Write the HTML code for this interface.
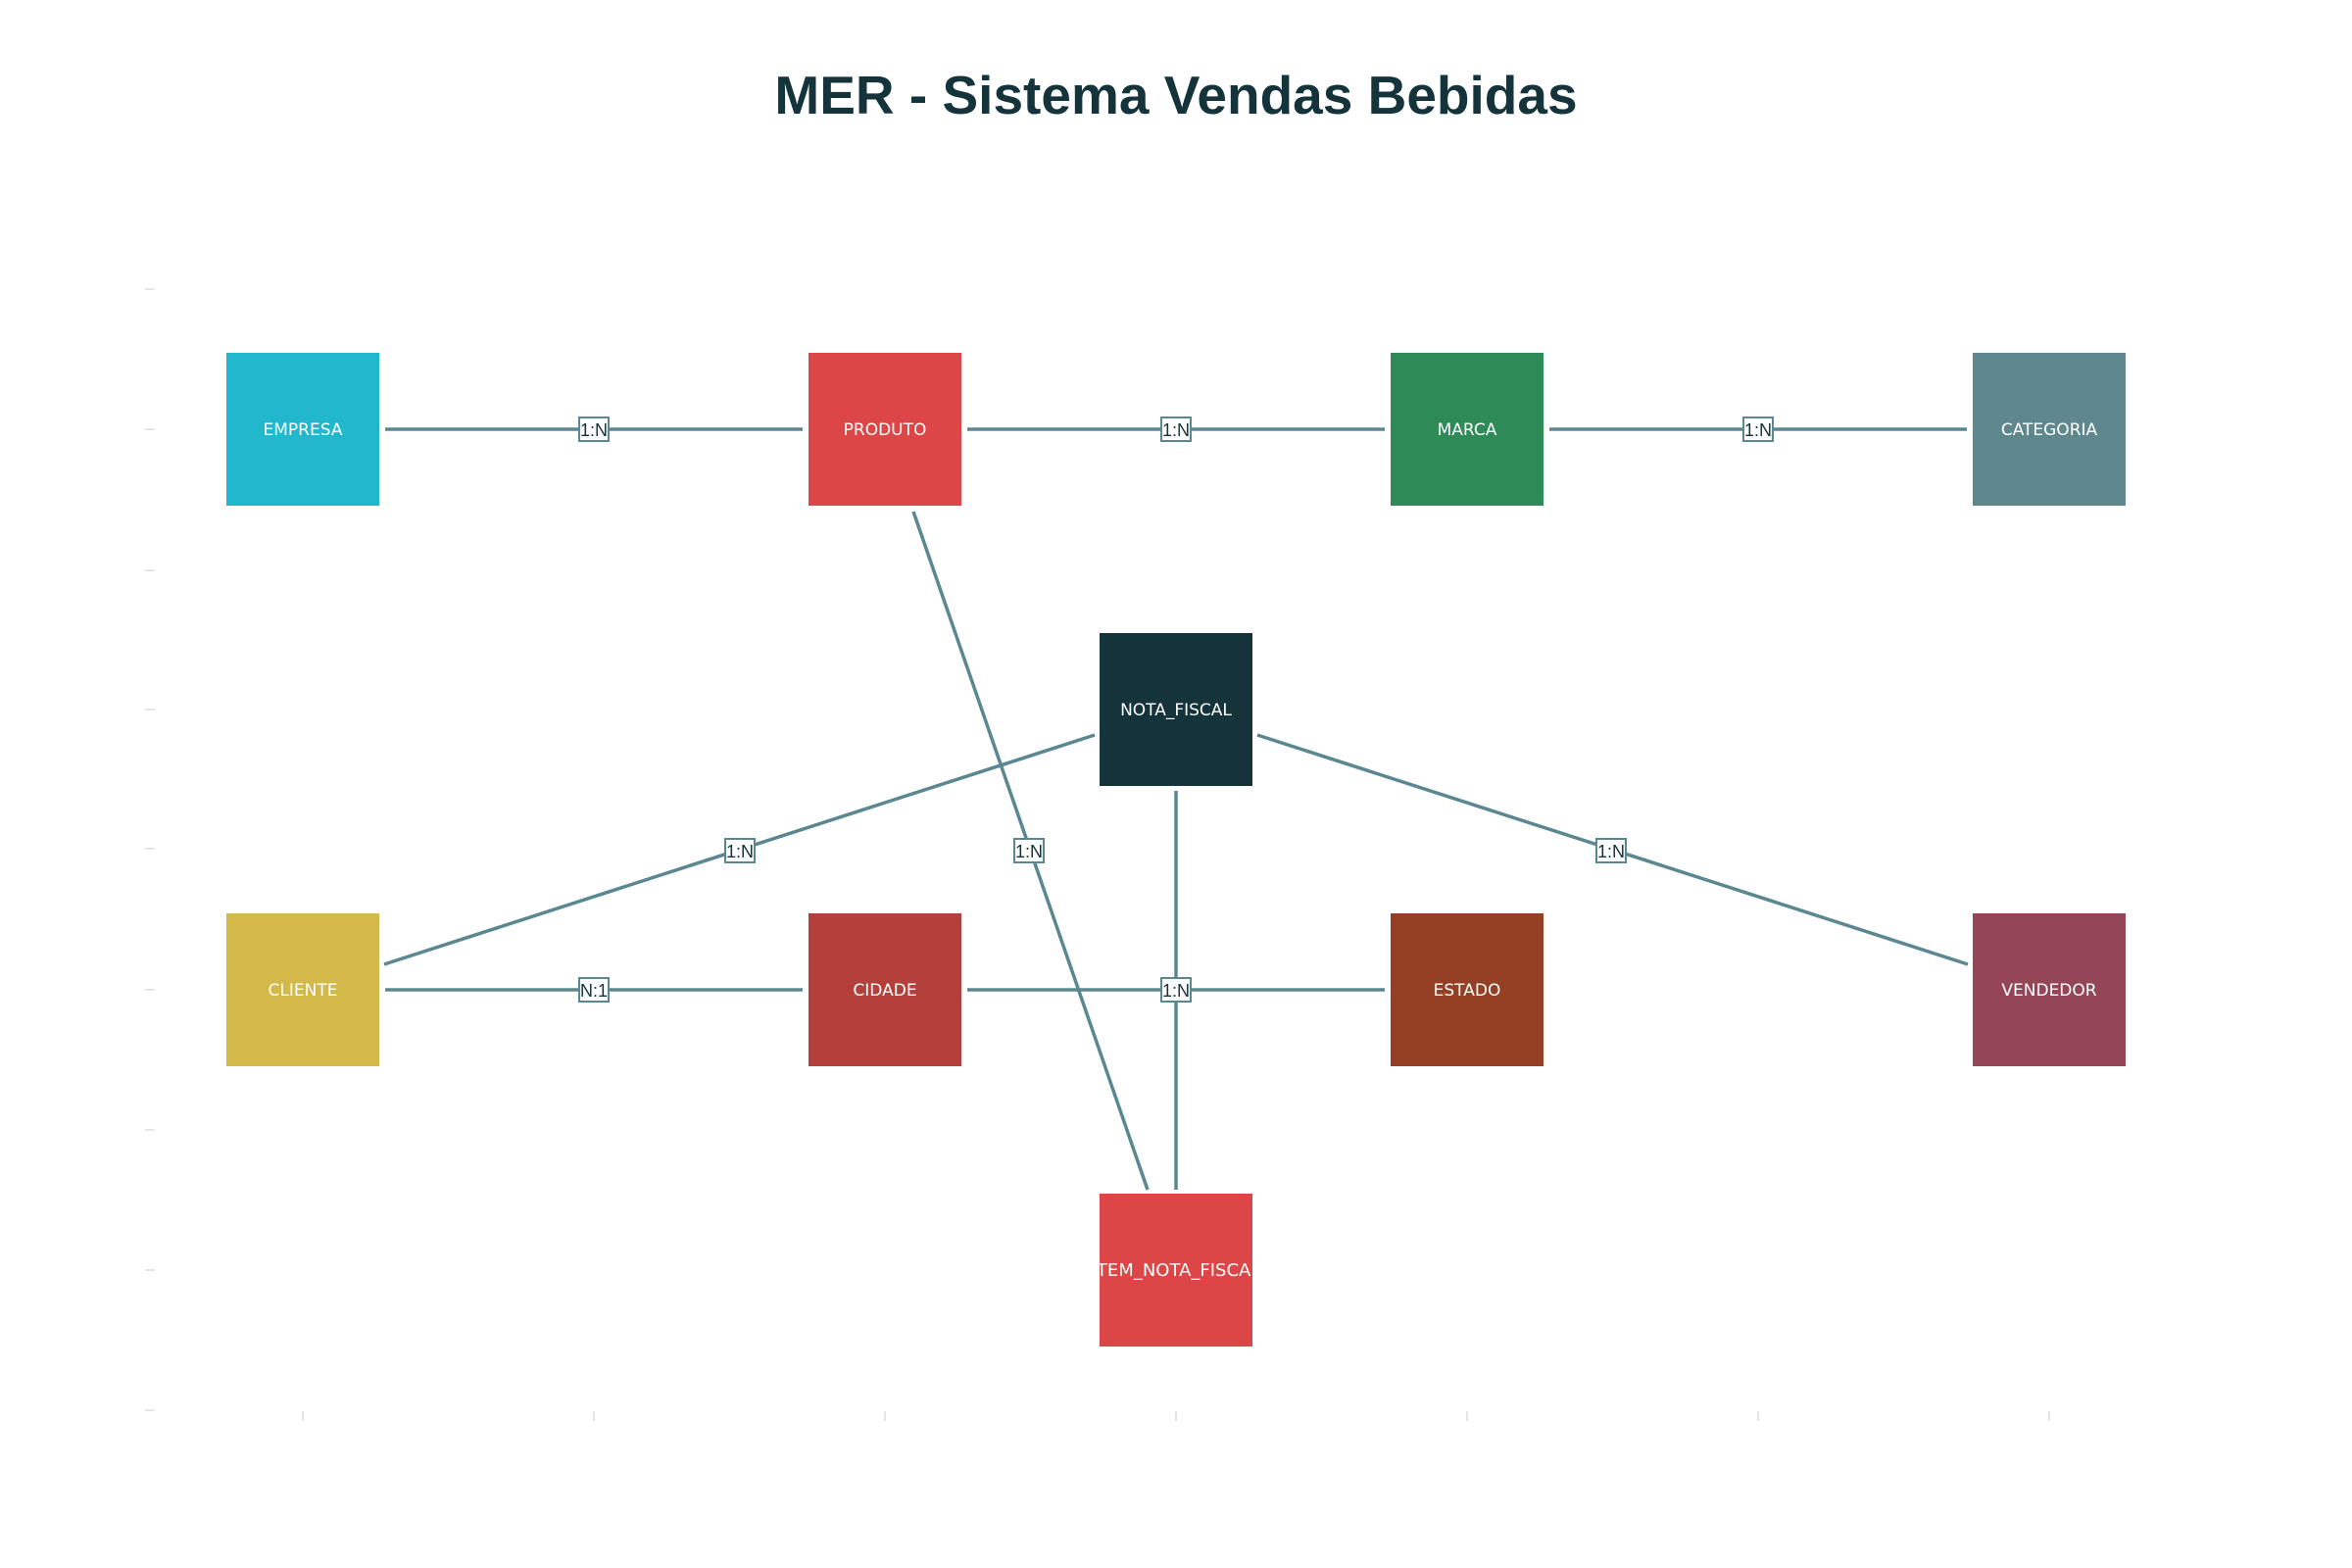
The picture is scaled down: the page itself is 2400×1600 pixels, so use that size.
<!DOCTYPE html>
<html><head><meta charset="utf-8"><style>html,body{margin:0;padding:0;background:#fff}svg{display:block}</style></head>
<body>
<svg width="2400" height="1600" viewBox="0 0 2400 1600" xmlns="http://www.w3.org/2000/svg" font-family="'DejaVu Sans','Liberation Sans',sans-serif">
<rect width="2400" height="1600" fill="#fff"/>
<text x="1200" y="116" text-anchor="middle" font-family="'Liberation Sans',sans-serif" font-weight="bold" font-size="55" fill="#14333b">MER - Sistema Vendas Bebidas</text>
<g stroke="#dcdcdc" stroke-width="1.5">
<line x1="148" x2="158" y1="295" y2="295"/><line x1="148" x2="158" y1="438" y2="438"/><line x1="148" x2="158" y1="582" y2="582"/><line x1="148" x2="158" y1="724" y2="724"/><line x1="148" x2="158" y1="866" y2="866"/><line x1="148" x2="158" y1="1010" y2="1010"/><line x1="148" x2="158" y1="1153" y2="1153"/><line x1="148" x2="158" y1="1296" y2="1296"/><line x1="148" x2="158" y1="1439" y2="1439"/>
<line x1="309" x2="309" y1="1440" y2="1450"/><line x1="606" x2="606" y1="1440" y2="1450"/><line x1="903" x2="903" y1="1440" y2="1450"/><line x1="1200" x2="1200" y1="1440" y2="1450"/><line x1="1497" x2="1497" y1="1440" y2="1450"/><line x1="1794" x2="1794" y1="1440" y2="1450"/><line x1="2091" x2="2091" y1="1440" y2="1450"/>
</g>
<g stroke="#5b8890" stroke-width="3.5">
<line x1="393" y1="438" x2="819" y2="438"/>
<line x1="987" y1="438" x2="1413" y2="438"/>
<line x1="1581" y1="438" x2="2007" y2="438"/>
<line x1="393" y1="1010" x2="819" y2="1010"/>
<line x1="987" y1="1010" x2="1413" y2="1010"/>
<line x1="932" y1="522" x2="1171" y2="1214"/>
<line x1="1117" y1="750" x2="392" y2="984"/>
<line x1="1283" y1="750" x2="2008" y2="984"/>
<line x1="1200" y1="807" x2="1200" y2="1214"/>
</g>
<g>
<rect x="231" y="360" width="156" height="156" fill="#21b8cd"/>
<rect x="825" y="360" width="156" height="156" fill="#dc4647"/>
<rect x="1419" y="360" width="156" height="156" fill="#2e8b57"/>
<rect x="2013" y="360" width="156" height="156" fill="#5e888e"/>
<rect x="1122" y="646" width="156" height="156" fill="#14333b"/>
<rect x="231" y="932" width="156" height="156" fill="#d3b84a"/>
<rect x="825" y="932" width="156" height="156" fill="#b3403b"/>
<rect x="1419" y="932" width="156" height="156" fill="#954024"/>
<rect x="2013" y="932" width="156" height="156" fill="#944556"/>
<rect x="1122" y="1218" width="156" height="156" fill="#dc4647"/>
</g>
<defs><clipPath id="c"><rect x="1122" y="1218" width="156" height="156"/></clipPath></defs>
<g fill="#fff" font-size="17" text-anchor="middle">
<text x="309" y="444">EMPRESA</text>
<text x="903" y="444">PRODUTO</text>
<text x="1497" y="444">MARCA</text>
<text x="2091" y="444">CATEGORIA</text>
<text x="1200" y="730">NOTA_FISCAL</text>
<text x="309" y="1016">CLIENTE</text>
<text x="903" y="1016">CIDADE</text>
<text x="1497" y="1016">ESTADO</text>
<text x="2091" y="1016">VENDEDOR</text>
<text x="1200" y="1302" clip-path="url(#c)" font-size="18">ITEM_NOTA_FISCAL</text>
</g>
<g font-family="'Liberation Sans',sans-serif" font-size="18" fill="#14333b" text-anchor="middle">
<g stroke="#5b8890" stroke-width="2" fill="#fff">
<rect x="591" y="426" width="30" height="24"/><rect x="1185" y="426" width="30" height="24"/><rect x="1779" y="426" width="30" height="24"/>
<rect x="591" y="998" width="30" height="24"/><rect x="1185" y="998" width="30" height="24"/>
<rect x="740" y="856" width="30" height="24"/><rect x="1035" y="856" width="30" height="24"/><rect x="1629" y="856" width="30" height="24"/>
</g>
<text x="606" y="445">1:N</text><text x="1200" y="445">1:N</text><text x="1794" y="445">1:N</text>
<text x="606" y="1017">N:1</text><text x="1200" y="1017">1:N</text>
<text x="755" y="875">1:N</text><text x="1050" y="875">1:N</text><text x="1644" y="875">1:N</text>
</g>
</svg>
</body></html>
